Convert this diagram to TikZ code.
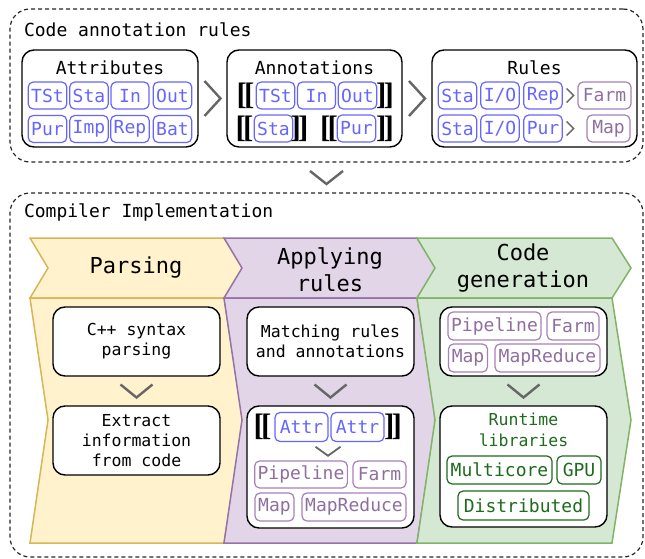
\documentclass[tikz,border=0pt]{standalone}
\usepackage{fontspec}
\setmainfont{DejaVu Sans Mono}
\newfontfamily\bracketfont{Liberation Serif}
\usetikzlibrary{calc}

\definecolor{tagBlue}{HTML}{6666FF}
\definecolor{tagPurple}{HTML}{A680B8}
\definecolor{txtPurple}{HTML}{8F6F9F}
\definecolor{tagGreen}{HTML}{1E6B1E}
\definecolor{parseFill}{HTML}{FFF2CC}
\definecolor{parseLine}{HTML}{D6B656}
\definecolor{applyFill}{HTML}{E1D5E7}
\definecolor{applyLine}{HTML}{9673A6}
\definecolor{genFill}{HTML}{D5E8D4}
\definecolor{genLine}{HTML}{82B366}
\definecolor{chevGray}{HTML}{666666}

\begin{document}
\begin{tikzpicture}[x=1pt,y=-1pt,
  every node/.style={inner sep=0pt, outer sep=0pt},
  section/.style={draw=black!85, dash pattern=on 4pt off 3pt, line width=1.2, rounded corners=20, minimum width=633},
  secTitle/.style={anchor=west, font=\fontsize{18}{22}\selectfont},
  panel/.style={draw, fill=white, line width=1.4, rounded corners=12},
  panelTitle/.style={font=\fontsize{18}{22}\selectfont},
  bodyBox/.style={panel, minimum width=167, minimum height=69, align=center, font=\fontsize{16.5}{20}\selectfont},
  tag/.style={draw, fill=white, line width=1.2, rounded corners=5, minimum height=27, minimum width=38, inner xsep=3, font=\fontsize{18}{20}\selectfont},
  attrTag/.style={tag, draw=tagBlue, text=tagBlue},
  ruleTag/.style={tag, draw=tagPurple, text=txtPurple},
  libTag/.style={tag, draw=tagGreen, text=tagGreen},
  brk/.style={font=\bracketfont\bfseries\fontsize{31}{31}\selectfont},
  header/.style={align=center, font=\fontsize{22}{27}\selectfont},
  chev/.style={draw=chevGray, line width=2.4},
]
  \newcommand{\chevR}[4]{
    \draw[chev, line width=#4] ($(#1)+(-#2/2,-#3/2)$) -- ++(#2,#3/2) -- ++(-#2,#3/2);
  }
  \newcommand{\chevD}[3]{
    \draw[chev] ($(#1)+(-#2/2,-#3/2)$) -- ++(#2/2,#3) -- ++(#2/2,-#3);
  }
  \useasboundingbox (0,0) rectangle (645,559);

  % code annotation rules
  \node[section, minimum height=153] (annRules) at (326.5,85.5) {};
  \node[secTitle] (annTitle) at (24,30) {Code annotation rules};

  \node[panel, minimum width=176, minimum height=97] (attrBox) at (110,98.5) {};
  \node[panelTitle] (attrTitle) at (110,68) {Attributes};
  \node[attrTag] (tst1) at (47.5,95.5) {TSt};
  \node[attrTag] (sta1) at (89,95.5) {Sta};
  \node[attrTag] (in1) at (130,95.5) {In};
  \node[attrTag] (out1) at (172.5,95.5) {Out};
  \node[attrTag] (pur1) at (47.5,129) {Pur};
  \node[attrTag] (imp1) at (89,129) {Imp};
  \node[attrTag] (rep1) at (130,129) {Rep};
  \node[attrTag] (bat1) at (172.5,129) {Bat};

  \node[panel, minimum width=175, minimum height=97] (annBox) at (314.5,98.5) {};
  \node[panelTitle] (annBoxTitle) at (314.5,68) {Annotations};
  \node[brk] (open1) at (245.5,96) {[\kern-3pt[};
  \node[attrTag] (tst2) at (275.5,95.5) {TSt};
  \node[attrTag] (in2) at (316.5,95.5) {In};
  \node[attrTag] (out2) at (357.5,95.5) {Out};
  \node[brk] (close1) at (385,96) {]\kern-3pt]};
  \node[brk] (open2) at (244.5,129) {[\kern-3pt[};
  \node[attrTag] (sta2) at (273.5,128.5) {Sta};
  \node[brk] (close2) at (299.5,129) {]\kern-3pt]};
  \node[brk] (open3) at (329,129) {[\kern-3pt[};
  \node[attrTag] (pur2) at (356.5,128.5) {Pur};
  \node[brk] (close3) at (385,129) {]\kern-3pt]};

  \node[panel, minimum width=205, minimum height=97] (ruleBox) at (534.5,98.5) {};
  \node[panelTitle] (ruleTitle) at (534.5,68) {Rules};
  \node[attrTag] (sta3) at (457.5,95.5) {Sta};
  \node[attrTag] (io3) at (500,95.5) {I/O};
  \node[attrTag] (rep3) at (543,95.5) {Rep};
  \node[ruleTag, minimum width=53] (farm3) at (604.5,95.5) {Farm};
  \node[attrTag] (sta4) at (457.5,128.5) {Sta};
  \node[attrTag] (io4) at (500,128.5) {I/O};
  \node[attrTag] (pur4) at (543,128.5) {Pur};
  \node[ruleTag, minimum width=43] (map4) at (608.5,128.5) {Map};

  \coordinate (c1) at ($(attrBox.east)!.5!(annBox.west)$);
  \coordinate (c2) at ($(annBox.east)!.5!(ruleBox.west)$);
  \coordinate (c3) at ($(rep3.east)!.5!(farm3.west)$);
  \coordinate (c4) at ($(pur4.east)!.5!(farm3.west|-pur4.east)$);
  \chevR{c1}{16}{35}{2.4}
  \chevR{c2}{16}{35}{2.4}
  \chevR{c3}{7}{14}{1.4}
  \chevR{c4}{7}{14}{1.4}

  % compiler implementation
  \node[section, minimum height=364] (compiler) at (326.5,375) {};
  \node[secTitle] (compTitle) at (24,212) {Compiler Implementation};
  \coordinate (c5) at ($(annRules.south)!.5!(compiler.north)$);
  \chevD{c5}{33}{13}

  \foreach \xl/\xr/\col in {30/224/parse,224/417/apply,417/612/gen}{
    \filldraw[fill=\col Fill, draw=\col Line, line width=1.5] (\xl,238) -- (\xr,238) -- (\xr+19,268) -- (\xr,298) -- (\xl,298) -- (\xl+18,268) -- cycle;
    \filldraw[fill=\col Fill, draw=\col Line, line width=1.5] (\xl,298) -- (\xr,298) -- (\xr+19,420) -- (\xr,543) -- (\xl,543) -- (\xl+18,420) -- cycle;
  }
  \node[header] (parseHd) at (136,268) {Parsing};
  \node[header] (applyHd) at (330,269.5) {Applying\\rules};
  \node[header] (genHd) at (523,268.5) {Code\\generation};

  % parsing
  \node[bodyBox] (cpp) at (136.5,341.5) {C++ syntax\\parsing};
  \node[bodyBox] (extract) at (136.5,440.5) {Extract\\information\\from code};
  \coordinate (c6) at ($(cpp.south)!.5!(extract.north)$);
  \chevD{c6}{32}{13}

  % applying rules
  \node[bodyBox] (match) at (330.5,341.5) {Matching rules\\and annotations};
  \node[panel, minimum width=167, minimum height=122] (attrRes) at (330.5,467) {};
  \coordinate (c7) at ($(match.south)!.5!(attrRes.north)$);
  \chevD{c7}{32}{13}
  \node[brk] (open4) at (262.5,427) {[\kern-3pt[};
  \node[attrTag, minimum width=53, minimum height=29] (attrA) at (301.5,427) {Attr};
  \node[attrTag, minimum width=53, minimum height=29] (attrB) at (357.5,427) {Attr};
  \node[brk] (close4) at (393,427) {]\kern-3pt]};
  \node[ruleTag, minimum width=92] (pipe5) at (301,474.5) {Pipeline};
  \node[ruleTag, minimum width=53] (farm5) at (379.5,474.5) {Farm};
  \node[ruleTag, minimum width=39, minimum height=28] (map5) at (274.5,507) {Map};
  \node[ruleTag, minimum width=104, minimum height=28] (mapred5) at (354,507) {MapReduce};
  \coordinate (c8) at ($(attrA.south east)!.5!(pipe5.north -| attrA.south east)$);
  \draw[chev, line width=1.8] ($(c8)+(-12.5,-4.5)$) -- ++(12.5,9) -- ++(12.5,-9);

  % code generation
  \node[panel, minimum width=167, minimum height=69] (patterns) at (523.5,341.5) {};
  \node[ruleTag, minimum width=93, minimum height=28] (pipe6) at (494.5,326) {Pipeline};
  \node[ruleTag, minimum width=52, minimum height=28] (farm6) at (573,326) {Farm};
  \node[ruleTag, minimum width=39, minimum height=28] (map6) at (468,358) {Map};
  \node[ruleTag, minimum width=105, minimum height=28] (mapred6) at (547.5,358) {MapReduce};
  \node[panel, minimum width=167, minimum height=121] (runtime) at (523.5,466.5) {};
  \coordinate (c9) at ($(patterns.south)!.5!(runtime.north)$);
  \chevD{c9}{32}{13}
  \node[align=center, text=tagGreen, font=\fontsize{16.5}{21}\selectfont] (rtLabel) at (523.5,430) {Runtime\\libraries};
  \node[libTag, minimum width=105, minimum height=28] (multi) at (499.5,470) {Multicore};
  \node[libTag, minimum width=44, minimum height=28] (gpu) at (579,470) {GPU};
  \node[libTag, minimum width=131, minimum height=29] (distrib) at (523.5,505.5) {Distributed};
\end{tikzpicture}
\end{document}
